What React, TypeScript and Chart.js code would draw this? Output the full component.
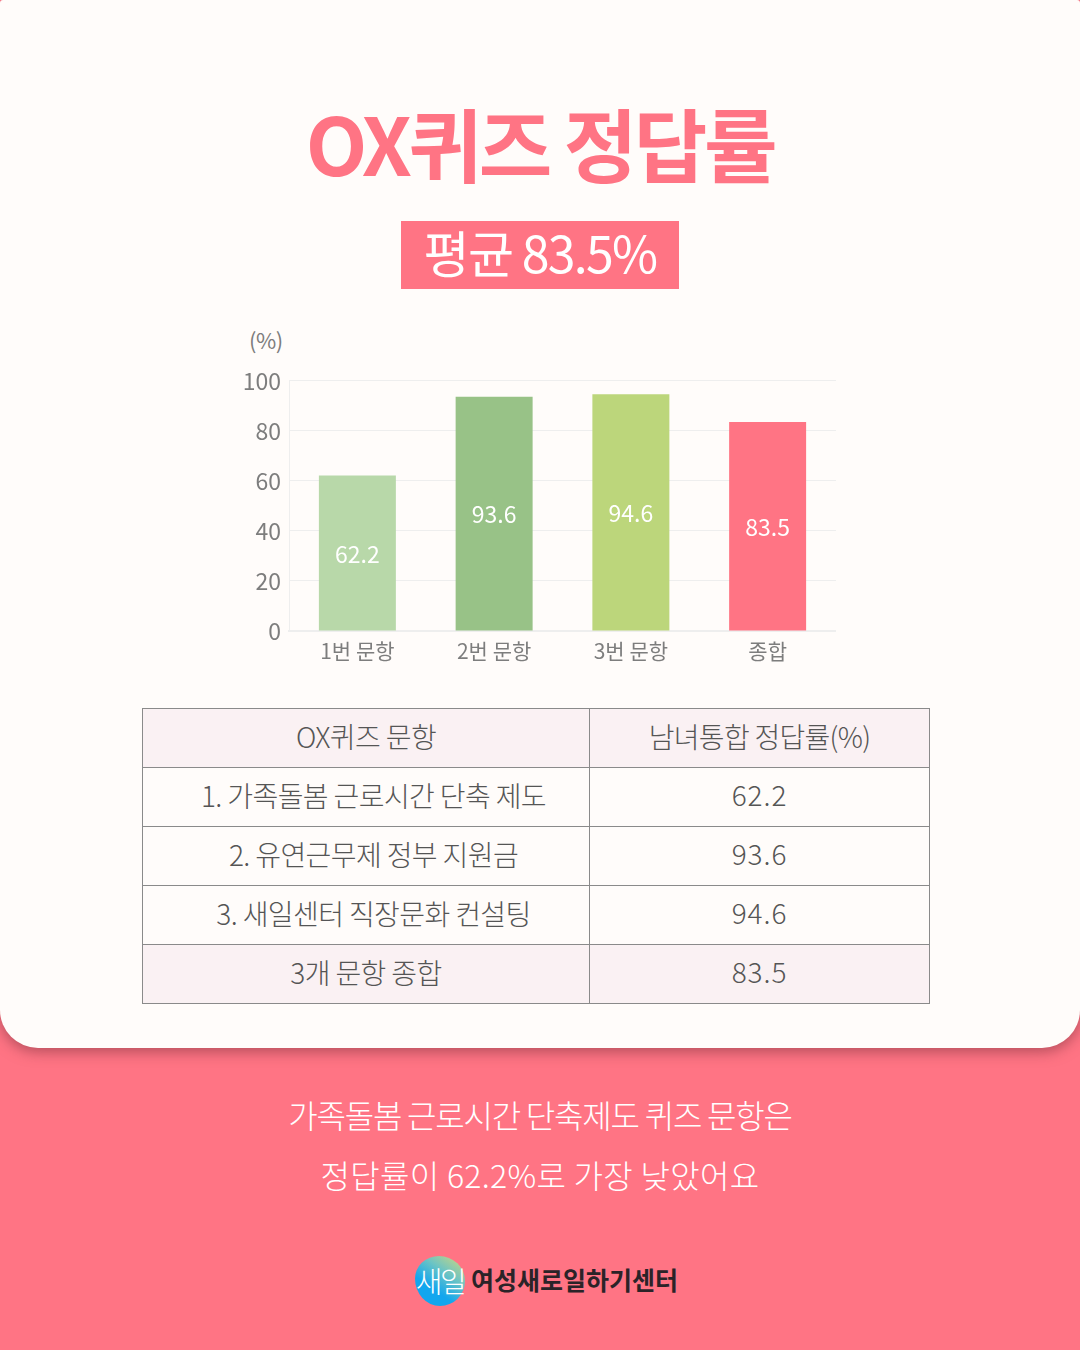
import React, { useEffect, useRef } from "react";
import { Chart, registerables } from "chart.js";

Chart.register(...registerables);

const categories = ["1번 문항", "2번 문항", "3번 문항", "종합"];
const values = [62.2, 93.6, 94.6, 83.5];
const barColors = ["#b8d8a9", "#98c287", "#bcd67b", "#ff7484"];
const yTicks = [0, 20, 40, 60, 80, 100];
const tableHead = ["OX퀴즈 문항", "남녀통합 정답률(%)"];
const tableRows = [
  ["1. 가족돌봄 근로시간 단축 제도", "62.2"],
  ["2. 유연근무제 정부 지원금", "93.6"],
  ["3. 새일센터 직장문화 컨설팅", "94.6"],
  ["3개 문항 종합", "83.5"],
];
const noteLines = ["가족돌봄 근로시간 단축제도 퀴즈 문항은", "정답률이 62.2%로 가장 낮았어요"];
const FONT = '"Noto Sans CJK KR", "Noto Sans", sans-serif';
const PINK = "#ff7484";
const PANEL = "#fffcfa";

const labelsPlugin = {
  id: "barLabels",
  afterDatasetsDraw(chart: any) {
    const { ctx } = chart;
    const meta = chart.getDatasetMeta(0);
    ctx.save();
    ctx.fillStyle = "#ffffff";
    ctx.font = `400 23px ${FONT}`;
    ctx.textAlign = "center";
    ctx.textBaseline = "middle";
    meta.data.forEach((bar: any, i: number) => {
      ctx.fillText(String(values[i]), bar.x, (bar.y + bar.base) / 2 + 1);
    });
    ctx.restore();
  },
};

function BarChart() {
  const ref = useRef<HTMLCanvasElement>(null);
  useEffect(() => {
    const chart = new Chart(ref.current!, {
      type: "bar",
      data: {
        labels: categories,
        datasets: [
          {
            data: values,
            backgroundColor: barColors,
            categoryPercentage: 1,
            barPercentage: 0.563,
          },
        ],
      },
      options: {
        animation: false,
        responsive: false,
        devicePixelRatio: 1,
        layout: { padding: 0 },
        plugins: { legend: { display: false }, tooltip: { enabled: false } },
        scales: {
          x: {
            grid: { display: false },
            border: { color: "#eeeeee", width: 2 },
            ticks: { color: "#7d7d7d", font: { family: FONT, size: 21, weight: "400" }, padding: -1, maxRotation: 0 },
            afterFit(s: any) { s.height = 40; },
          },
          y: {
            min: 0,
            max: 100,
            afterBuildTicks(s: any) { s.ticks = yTicks.map((value) => ({ value })); },
            grid: { color: "#eeeeee", drawTicks: false },
            border: { color: "#eeeeee" },
            ticks: { color: "#7d7d7d", font: { family: FONT, size: 23, weight: "400" }, padding: 8 },
            afterFit(s: any) { s.width = 59; },
          },
        },
      } as any,
      plugins: [labelsPlugin],
    });
    return () => chart.destroy();
  }, []);
  return (
    <canvas
      ref={ref}
      width={606}
      height={312}
      style={{ position: "absolute", left: 230, top: 359, width: 606, height: 312 }}
    />
  );
}

const abs = (s: React.CSSProperties): React.CSSProperties => ({
  position: "absolute",
  whiteSpace: "nowrap",
  fontFamily: FONT,
  ...s,
});

export default function App() {
  const rowH = 59;
  return (
    <div style={{ position: "fixed", left: 0, top: 0, width: 1080, height: 1350, background: PINK, overflow: "hidden", fontFamily: FONT }}>
      <div style={{ position: "absolute", left: 0, top: 0, width: 1080, height: 1048, background: PANEL, borderRadius: "3px 3px 38px 38px", boxShadow: "0 4px 14px rgba(120,50,60,0.55)" }} />
      <div style={abs({ left: 0, width: 1080, top: 81, textAlign: "center", fontSize: 80, lineHeight: "120px", fontWeight: 700, color: PINK, letterSpacing: -3.4 })}>OX퀴즈 정답률</div>
      <div style={abs({ left: 401, top: 221, width: 278, height: 68, background: PINK, color: "#fff", textAlign: "center", fontSize: 50, lineHeight: "60px", fontWeight: 400, letterSpacing: -1.7 })}>평균 83.5%</div>
      <div style={abs({ left: 249, top: 324, fontSize: 22, lineHeight: "30px", color: "#7d7d7d", fontWeight: 400, letterSpacing: -0.5 })}>(%)</div>
      <BarChart />
      <table style={{ position: "absolute", left: 142, top: 708, width: 787, height: rowH * 5 + 1, borderCollapse: "collapse", tableLayout: "fixed", color: "#555", fontFamily: FONT, fontSize: 28, fontWeight: 300, letterSpacing: -0.5 }}>
        <colgroup><col style={{ width: 447 }} /><col style={{ width: 340 }} /></colgroup>
        <tbody>
          {[tableHead, ...tableRows].map((row, i) => (
            <tr key={i} style={{ height: rowH, background: i === 0 || i === tableRows.length ? "#faf1f3" : "transparent" }}>
              {row.map((c, j) => (
                <td
                  key={j}
                  style={{
                    border: "1px solid #8a8a8a",
                    textAlign: "center",
                    padding: 0,
                    paddingBottom: j === 1 && i > 0 ? 7 : 5,
                    paddingLeft: j === 0 && i >= 1 && i <= 3 ? 15 : 0,
                    letterSpacing: j === 1 && i > 0 ? 0.9 : j === 1 ? -0.7 : -0.6,
                  }}
                >
                  {c}
                </td>
              ))}
            </tr>
          ))}
        </tbody>
      </table>
      <div style={abs({ left: 0, width: 1080, top: 1084, textAlign: "center", fontSize: 32, lineHeight: "60px", fontWeight: 300, color: "#fff", letterSpacing: -1.2 })}>{noteLines[0]}</div>
      <div style={abs({ left: 0, width: 1080, top: 1144, textAlign: "center", fontSize: 32, lineHeight: "60px", fontWeight: 300, color: "#fff", letterSpacing: 0.3 })}>{noteLines[1]}</div>
      <div style={{ position: "absolute", left: 415, top: 1256, width: 50, height: 50, borderRadius: "48% 52% 50% 50% / 45% 50% 50% 55%", background: "linear-gradient(35deg,#12a6ee 35%,#6cc4c4 65%,#d8d878 100%)" }} />
      <div style={abs({ left: 415, top: 1255, width: 50, textAlign: "center", fontSize: 29, lineHeight: "50px", fontWeight: 300, color: "#fff", letterSpacing: -2.5 })}>새일</div>
      <div style={abs({ left: 471, top: 1260, fontSize: 25, lineHeight: "38px", fontWeight: 700, color: "#2b2328", letterSpacing: 0 })}>여성새로일하기센터</div>
    </div>
  );
}
